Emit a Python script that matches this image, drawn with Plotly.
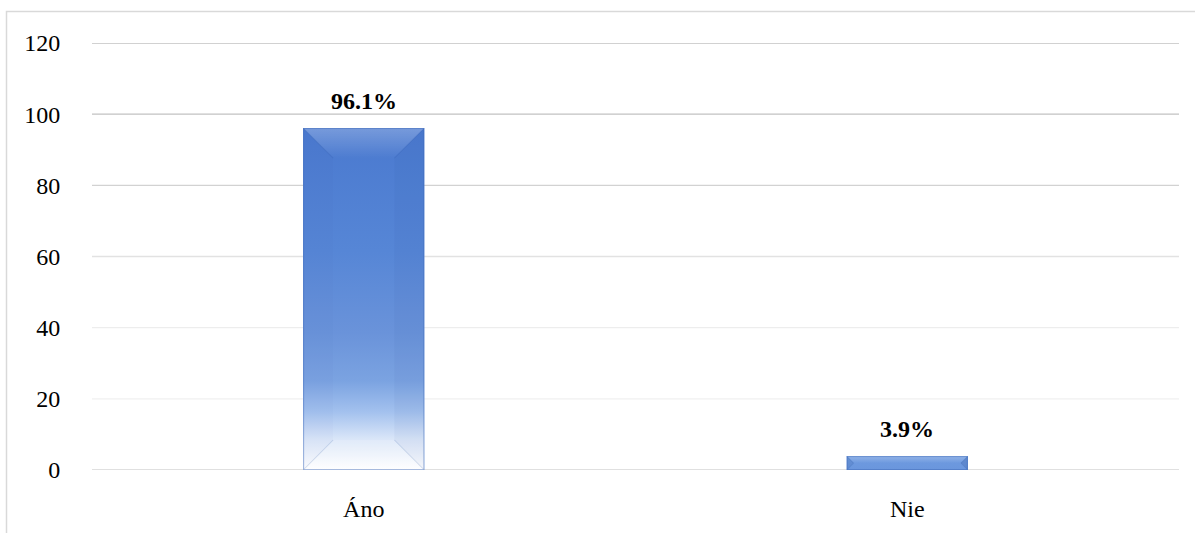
import base64
import plotly.graph_objects as go

# Survey answers and their share of respondents (%)
categories = ["Áno", "Nie"]
shares = [96.1, 3.9]
y_ticks = [0, 20, 40, 60, 80, 100, 120]

# Canvas and plot-area geometry
W, H = 1195, 533
ML, MR, MT, MB = 92, 16, 43, 63
PW, PH = W - ML - MR, H - MT - MB
Y_MAX = 120
BAR_W = 0.223  # bar width in category units

FONT = "Liberation Serif"
TEXT = "#000000"
FS = 24

# Gridline tints, bottom to top
grid_colors = ["#d6d6d6", "#f0f0f0", "#ededed", "#e2e2e2", "#d2d2d2", "#c2c2c2", "#c2c2c2"]


def bevel_bar_svg(wpx, hpx, fade):
    """Bevelled, gradient-filled bar face as an SVG data URI."""
    b = min(30.0, hpx / 2.0, wpx / 2.0)
    if fade:
        stops = [(0, "#4a79cf"), (0.36, "#5686d6"), (0.6, "#6a93da"), (0.74, "#7ba3e1"),
                 (0.83, "#a3c1ee"), (0.91, "#dae6f8"), (1, "#ffffff")]
    else:
        stops = [(0, "#6f9be0"), (1, "#6a96dd")]
    stop_xml = "".join(f'<stop offset="{o}" stop-color="{c}"/>' for o, c in stops)
    svg = (
        f'<svg xmlns="http://www.w3.org/2000/svg" width="{wpx:.2f}" height="{hpx:.2f}" '
        f'viewBox="0 0 {wpx:.2f} {hpx:.2f}" preserveAspectRatio="none">'
        f'<defs><linearGradient id="f" x1="0" y1="0" x2="0" y2="1">{stop_xml}</linearGradient>'
        f'<linearGradient id="t" x1="0" y1="0" x2="0" y2="1">'
        f'<stop offset="0" stop-color="#ffffff" stop-opacity="0.25"/>'
        f'<stop offset="1" stop-color="#ffffff" stop-opacity="0.0"/></linearGradient></defs>'
        f'<rect x="0" y="0" width="{wpx:.2f}" height="{hpx:.2f}" fill="url(#f)"/>'
        # top bevel
        f'<polygon points="0,0 {wpx:.2f},0 {wpx - b:.2f},{b:.2f} {b:.2f},{b:.2f}" fill="url(#t)"/>'
        # left bevel
        f'<polygon points="0,0 {b:.2f},{b:.2f} {b:.2f},{hpx - b:.2f} 0,{hpx:.2f}" '
        f'fill="#1d3f85" fill-opacity="{0.02 if fade else 0.12}"/>'
        # right bevel
        f'<polygon points="{wpx:.2f},0 {wpx - b:.2f},{b:.2f} {wpx - b:.2f},{hpx - b:.2f} {wpx:.2f},{hpx:.2f}" '
        f'fill="#1d3f85" fill-opacity="{0.04 if fade else 0.18}"/>'
        # bottom bevel
        f'<polygon points="0,{hpx:.2f} {b:.2f},{hpx - b:.2f} {wpx - b:.2f},{hpx - b:.2f} {wpx:.2f},{hpx:.2f}" '
        f'fill="#ffffff" fill-opacity="{0.15 if fade else 0.0}"/>'
        # diagonal facet edges
        f'<g stroke="#2f5aa8" stroke-opacity="0.18" stroke-width="1">'
        f'<line x1="0" y1="0" x2="{b:.2f}" y2="{b:.2f}"/>'
        f'<line x1="{wpx:.2f}" y1="0" x2="{wpx - b:.2f}" y2="{b:.2f}"/>'
        f'<line x1="0" y1="{hpx:.2f}" x2="{b:.2f}" y2="{hpx - b:.2f}"/>'
        f'<line x1="{wpx:.2f}" y1="{hpx:.2f}" x2="{wpx - b:.2f}" y2="{hpx - b:.2f}"/></g>'
        f'<rect x="0.5" y="0.5" width="{wpx - 1:.2f}" height="{hpx - 1:.2f}" fill="none" '
        f'stroke="#3b66b4" stroke-opacity="0.45" stroke-width="1"/>'
        '</svg>'
    )
    return "data:image/svg+xml;base64," + base64.b64encode(svg.encode()).decode()


fig = go.Figure()

# Base bars (solid), overlaid by the bevelled faces below
fig.add_trace(go.Bar(
    x=categories,
    y=shares,
    width=BAR_W,
    marker=dict(color="#5d8bd8", line=dict(width=0)),
    hoverinfo="x+y",
    showlegend=False,
))

bar_w_px = BAR_W * PW / len(categories)
images = []
annotations = []
for i, (cat, v) in enumerate(zip(categories, shares)):
    bar_h_px = v * PH / Y_MAX
    images.append(dict(
        source=bevel_bar_svg(bar_w_px, bar_h_px, fade=bar_h_px > 120),
        xref="x", yref="y",
        x=i - BAR_W / 2, y=v,
        sizex=BAR_W, sizey=v,
        xanchor="left", yanchor="top",
        sizing="stretch", layer="above",
    ))
    annotations.append(dict(
        x=cat, y=v, xref="x", yref="y",
        text=f"<b>{v:.1f}%</b>",
        showarrow=False, yanchor="bottom", yshift=12,
        font=dict(family=FONT, size=FS, color=TEXT),
    ))

# Horizontal gridlines behind the bars
shapes = []
for t, c in zip(y_ticks, grid_colors):
    shapes.append(dict(
        type="line", xref="paper", yref="y",
        x0=0, x1=1, y0=t, y1=t,
        line=dict(color=c, width=1.4), layer="below",
    ))

# Outer chart frame (left and top edges visible)
fx0 = (6.5 - ML) / PW
fy1 = (H - MB - 11.5) / PH
shapes.append(dict(
    type="rect", xref="paper", yref="paper",
    x0=fx0, x1=1.2, y0=-0.5, y1=fy1,
    line=dict(color="#d9d9d9", width=1.5), fillcolor="rgba(0,0,0,0)", layer="below",
))

fig.update_layout(
    width=W, height=H,
    margin=dict(l=ML, r=MR, t=MT, b=MB, pad=0, autoexpand=False),
    paper_bgcolor="#ffffff",
    plot_bgcolor="rgba(0,0,0,0)",
    font=dict(family=FONT, size=FS, color=TEXT),
    showlegend=False,
    images=images,
    annotations=annotations,
    shapes=shapes,
    xaxis=dict(
        type="category",
        range=[-0.5, len(categories) - 0.5],
        automargin=False,
        showgrid=False, zeroline=False, showline=False,
        ticks="outside", ticklen=17, tickcolor="rgba(0,0,0,0)",
        tickfont=dict(family=FONT, size=FS, color=TEXT),
        fixedrange=True,
    ),
    yaxis=dict(
        range=[0, Y_MAX],
        tickvals=y_ticks,
        automargin=False,
        showgrid=False, zeroline=False, showline=False,
        ticks="outside", ticklen=26, tickcolor="rgba(0,0,0,0)",
        tickfont=dict(family=FONT, size=FS, color=TEXT),
        fixedrange=True,
    ),
)

fig.write_html("out.html")
